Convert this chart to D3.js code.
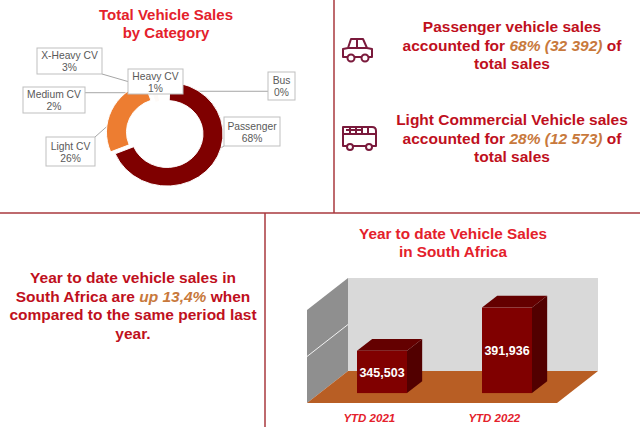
<!DOCTYPE html>
<html>
<head>
<meta charset="utf-8">
<script src="https://cdn.jsdelivr.net/npm/d3@7"></script>
<style>
  body { margin: 0; background: #fff; }
  svg { font-family: "Liberation Sans", Arial, sans-serif; }
</style>
</head>
<body>
<div id="board"></div>
<script>
// Data
var categories = ["Passenger", "Light CV", "Medium CV", "X-Heavy CV", "Heavy CV", "Bus"];
var shares = [68, 26, 2, 3, 1, 0];

var ytdLabels = ["YTD 2021", "YTD 2022"];
var ytdSales = [345503, 391936];

// Layout for the donut labels (boxes placed by hand, like the original)
var labelBoxes = {
  "Passenger":  { x: 224, y: 117, w: 56, h: 29 },
  "Light CV":   { x: 46,  y: 137, w: 49, h: 29 },
  "Medium CV":  { x: 23,  y: 87,  w: 62, h: 26 },
  "X-Heavy CV": { x: 37,  y: 48,  w: 65, h: 26 },
  "Heavy CV":   { x: 128, y: 69,  w: 55, h: 25 },
  "Bus":        { x: 268, y: 72,  w: 27, h: 28 }
};
var sliceColors = ["#7f0000", "#ed7d31", "#fefaf7", "#ffffff", "#ffffff", "#ffffff"];

var svgWidth = 640;
var svgHeight = 427;

var svg = d3.select("#board")
  .append("svg")
  .attr("width", svgWidth)
  .attr("height", svgHeight);

var titleRed = "#e4212b";
var bodyRed = "#bf101d";
var accent = "#c8793c";
var lineRed = "#a8383e";
var iconColor = "#7a1a3c";

// Step 1: panel dividers
svg.append("line").attr("x1", 334).attr("y1", 0).attr("x2", 334).attr("y2", 213)
  .attr("stroke", lineRed).attr("stroke-width", 1.5);
svg.append("line").attr("x1", 0).attr("y1", 213).attr("x2", 640).attr("y2", 213)
  .attr("stroke", lineRed).attr("stroke-width", 1.5);
svg.append("line").attr("x1", 265).attr("y1", 213).attr("x2", 265).attr("y2", 427)
  .attr("stroke", lineRed).attr("stroke-width", 1.5);

// Step 2: donut chart
var donutTitle = svg.append("text")
  .attr("text-anchor", "middle")
  .attr("font-weight", "bold")
  .attr("font-size", 15)
  .attr("fill", titleRed);
donutTitle.append("tspan").attr("x", 166).attr("y", 20).text("Total Vehicle Sales");
donutTitle.append("tspan").attr("x", 166).attr("y", 38).text("by Category");

var cx = 167, cy = 134, squash = 0.93;
var explode = { "Light CV": 5 };

var pie = d3.pie().value(d => d.value).sort(null).startAngle(0.05).endAngle(2 * Math.PI + 0.05);
var pieData = pie(categories.map((c, i) => ({ name: c, value: shares[i], color: sliceColors[i] })));

var arc = d3.arc().innerRadius(36).outerRadius(56);

function offsetOf(d) {
  var e = explode[d.data.name] || 0;
  var a = (d.startAngle + d.endAngle) / 2;
  return [e * Math.sin(a), -e * Math.cos(a) * squash];
}

// where a leader line ends, in page coordinates
function anchorOf(d) {
  var c = arc.centroid(d);
  var o = offsetOf(d);
  return [cx + c[0] + o[0], cy + c[1] * squash + o[1]];
}

var leaderGroup = svg.append("g");
var donutGroup = svg.append("g");

donutGroup.selectAll("path")
  .data(pieData)
  .enter()
  .append("path")
  .attr("transform", function(d) {
    var o = offsetOf(d);
    return `translate(${cx + o[0]}, ${cy + o[1]}) scale(1, ${squash})`;
  })
  .attr("d", arc)
  .attr("fill", d => d.data.color)
  .attr("stroke", "#fff")
  .attr("stroke-width", 1);

// leader lines go from the closest point of the box to the slice
leaderGroup.selectAll("line")
  .data(pieData.filter(d => d.data.name !== "Heavy CV"))
  .enter()
  .append("line")
  .each(function(d) {
    var b = labelBoxes[d.data.name];
    var p = anchorOf(d);
    var sx = Math.max(b.x, Math.min(b.x + b.w, p[0]));
    var sy = Math.max(b.y, Math.min(b.y + b.h, p[1]));
    d3.select(this)
      .attr("x1", sx).attr("y1", sy)
      .attr("x2", p[0]).attr("y2", p[1]);
  })
  .attr("stroke", "#a6a6a6")
  .attr("stroke-width", 1);

var labelGroup = svg.append("g")
  .selectAll("g")
  .data(pieData)
  .enter()
  .append("g");

labelGroup.append("rect")
  .attr("x", d => labelBoxes[d.data.name].x)
  .attr("y", d => labelBoxes[d.data.name].y)
  .attr("width", d => labelBoxes[d.data.name].w)
  .attr("height", d => labelBoxes[d.data.name].h)
  .attr("fill", "#fff")
  .attr("stroke", "#bfbfbf")
  .attr("stroke-width", 1);

var labelText = labelGroup.append("text")
  .attr("text-anchor", "middle")
  .attr("font-size", 10.3)
  .attr("fill", "#595959");
labelText.append("tspan")
  .attr("x", d => labelBoxes[d.data.name].x + labelBoxes[d.data.name].w / 2)
  .attr("y", d => labelBoxes[d.data.name].y + labelBoxes[d.data.name].h / 2 - 2)
  .text(d => d.data.name);
labelText.append("tspan")
  .attr("x", d => labelBoxes[d.data.name].x + labelBoxes[d.data.name].w / 2)
  .attr("y", d => labelBoxes[d.data.name].y + labelBoxes[d.data.name].h / 2 + 10)
  .text(d => d.data.value + "%");

// Step 3: top right statements with icons
function statement(y, lines) {
  var t = svg.append("text")
    .attr("text-anchor", "middle")
    .attr("font-weight", "bold")
    .attr("font-size", 15.5)
    .attr("fill", bodyRed);
  lines.forEach(function(parts, i) {
    var ts = t.append("tspan").attr("x", 512).attr("y", y + i * 18.5);
    parts.forEach(function(p) {
      var s = ts.append("tspan").text(p.text);
      if (p.em) s.attr("font-style", "italic").attr("fill", accent);
    });
  });
}

statement(32, [
  [{ text: "Passenger vehicle sales" }],
  [{ text: "accounted for " }, { text: "68% (32 392)", em: true }, { text: " of" }],
  [{ text: "total sales" }]
]);
statement(125, [
  [{ text: "Light Commercial Vehicle sales" }],
  [{ text: "accounted for " }, { text: "28% (12 573)", em: true }, { text: " of" }],
  [{ text: "total sales" }]
]);

// car icon
var car = svg.append("g")
  .attr("fill", "none")
  .attr("stroke", iconColor)
  .attr("stroke-width", 2)
  .attr("stroke-linejoin", "round");
car.append("path").attr("d", "M343,57 L343,49 L348,48 L351,39 L363,39 L367,48 L372,49 L372,57 Z");
car.append("line").attr("x1", 348).attr("y1", 48).attr("x2", 367).attr("y2", 48);
car.append("line").attr("x1", 357).attr("y1", 39).attr("x2", 357).attr("y2", 48);
car.append("circle").attr("cx", 351).attr("cy", 58).attr("r", 3.5).attr("fill", "#fff");
car.append("circle").attr("cx", 365).attr("cy", 58).attr("r", 3.5).attr("fill", "#fff");

// bus icon
var bus = svg.append("g")
  .attr("fill", "none")
  .attr("stroke", iconColor)
  .attr("stroke-width", 2)
  .attr("stroke-linejoin", "round");
bus.append("path").attr("d", "M343,146 L343,127 L372,127 Q376,127 376,131 L376,146 Z");
bus.append("line").attr("x1", 343).attr("y1", 134).attr("x2", 376).attr("y2", 134);
bus.append("path").attr("d", "M346,130 L362,130 M350,127 L350,134 M356,127 L356,134 M362,127 L362,134 M368,127 L368,134");
bus.append("circle").attr("cx", 350).attr("cy", 147).attr("r", 3).attr("fill", "#fff");
bus.append("circle").attr("cx", 369).attr("cy", 147).attr("r", 3).attr("fill", "#fff");

// Step 4: bottom left statement
var growth = svg.append("text")
  .attr("text-anchor", "middle")
  .attr("font-weight", "bold")
  .attr("font-size", 15.5)
  .attr("fill", bodyRed);
[
  [{ text: "Year to date vehicle sales in" }],
  [{ text: "South Africa are " }, { text: "up 13,4%", em: true }, { text: " when" }],
  [{ text: "compared to the same period last" }],
  [{ text: "year." }]
].forEach(function(parts, i) {
  var ts = growth.append("tspan").attr("x", 133).attr("y", 283 + i * 18.5);
  parts.forEach(function(p) {
    var s = ts.append("tspan").text(p.text);
    if (p.em) s.attr("font-style", "italic").attr("fill", accent);
  });
});

// Step 5: 3D bar chart
var barTitle = svg.append("text")
  .attr("text-anchor", "middle")
  .attr("font-weight", "bold")
  .attr("font-size", 15.3)
  .attr("fill", titleRed);
barTitle.append("tspan").attr("x", 453).attr("y", 239).text("Year to date Vehicle Sales");
barTitle.append("tspan").attr("x", 453).attr("y", 257).text("in South Africa");

var floorFront = 403;       // y of front edge of floor
var floorLeft = 307;        // x of front-left corner
var floorRight = 557;
var depth = [41, -32];      // front-to-back offset
var barDepth = 0.37;        // bar depth as share of floor depth
var barFrom = 0.31;         // where bars stand on the floor

var yScale = d3.scaleLinear()
  .domain([300000, 400000])
  .range([0, 93]);

var xScale = d3.scaleBand()
  .domain(ytdLabels)
  .range([319.5, 569.5])
  .paddingInner(0.6)
  .paddingOuter(0.3);

var wallH = yScale(400000);
var backY = floorFront + depth[1];
var pts = a => a.map(p => p.join(",")).join(" ");

// back wall
svg.append("polygon")
  .attr("points", pts([[floorLeft + depth[0], backY], [floorRight + depth[0], backY],
    [floorRight + depth[0], backY - wallH], [floorLeft + depth[0], backY - wallH]]))
  .attr("fill", "#d9d9d9");

// side wall
svg.append("polygon")
  .attr("points", pts([[floorLeft, floorFront], [floorLeft + depth[0], backY],
    [floorLeft + depth[0], backY - wallH], [floorLeft, floorFront - wallH]]))
  .attr("fill", "#8f8f8f");

// gridline on the side wall
svg.append("line")
  .attr("x1", floorLeft).attr("y1", floorFront - yScale(350000))
  .attr("x2", floorLeft + depth[0]).attr("y2", backY - yScale(350000))
  .attr("stroke", "#f2f2f2").attr("stroke-width", 1);

// floor
svg.append("polygon")
  .attr("points", pts([[floorLeft, floorFront], [floorRight, floorFront],
    [floorRight + depth[0], backY], [floorLeft + depth[0], backY]]))
  .attr("fill", "#b85e24");

var base = floorFront + depth[1] * barFrom;
var dx = depth[0] * barDepth, dy = depth[1] * barDepth;

var bars = svg.selectAll(".bar")
  .data(ytdLabels.map((l, i) => ({ label: l, value: ytdSales[i] })))
  .enter()
  .append("g")
  .attr("class", "bar");

bars.append("polygon")
  .attr("points", function(d) {
    var x = xScale(d.label), w = xScale.bandwidth(), top = base - yScale(d.value);
    return pts([[x + w, top], [x + w + dx, top + dy], [x + w + dx, base + dy], [x + w, base]]);
  })
  .attr("fill", "#520000");

bars.append("polygon")
  .attr("points", function(d) {
    var x = xScale(d.label), w = xScale.bandwidth(), top = base - yScale(d.value);
    return pts([[x, top], [x + w, top], [x + w + dx, top + dy], [x + dx, top + dy]]);
  })
  .attr("fill", "#640000");

bars.append("rect")
  .attr("x", d => xScale(d.label))
  .attr("y", d => base - yScale(d.value))
  .attr("width", xScale.bandwidth())
  .attr("height", d => yScale(d.value))
  .attr("fill", "#800000");

bars.append("text")
  .attr("x", d => xScale(d.label) + xScale.bandwidth() / 2)
  .attr("y", d => base - yScale(d.value) / 2 + 5)
  .attr("text-anchor", "middle")
  .attr("font-weight", "bold")
  .attr("font-size", 12.5)
  .attr("fill", "#fff")
  .text(d => d3.format(",")(d.value));

// category labels sit at the front edge of the floor
bars.append("text")
  .attr("x", d => xScale(d.label) + xScale.bandwidth() / 2 - depth[0] * barFrom)
  .attr("y", 422)
  .attr("text-anchor", "middle")
  .attr("font-weight", "bold")
  .attr("font-style", "italic")
  .attr("font-size", 11.5)
  .attr("fill", titleRed)
  .text(d => d.label);
</script>
</body>
</html>
